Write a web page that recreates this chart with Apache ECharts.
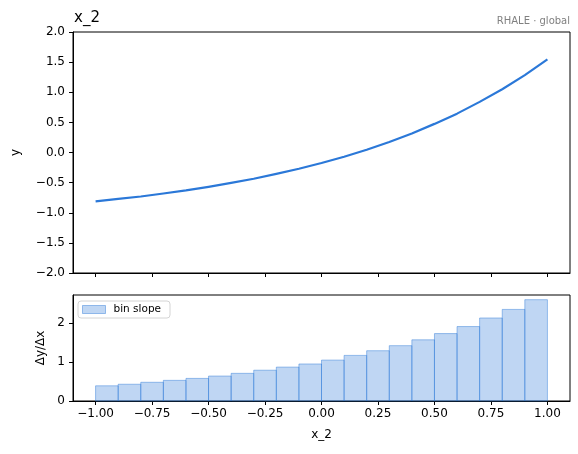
<!DOCTYPE html>
<html>
<head>
<meta charset="utf-8">
<script src="https://cdn.jsdelivr.net/npm/echarts@6/dist/echarts.min.js"></script>
<style>
  html, body { margin: 0; padding: 0; background: #fff; }
  #chart { width: 578px; height: 454px; }
</style>
</head>
<body>
<div id="chart"></div>
<script>
// effect curve (top panel)
const curveX = [-1.0, -0.9, -0.8, -0.7, -0.6, -0.5, -0.4, -0.3, -0.2, -0.1, 0.0,
                0.1, 0.2, 0.3, 0.4, 0.5, 0.6, 0.7, 0.8, 0.9, 1.0];
const curveY = [-0.81, -0.77, -0.73, -0.68, -0.63, -0.57, -0.505, -0.435, -0.355, -0.27, -0.175,
                -0.07, 0.045, 0.175, 0.315, 0.475, 0.645, 0.84, 1.05, 1.285, 1.545];

// bin slopes (bottom panel)
const binLeft = [-1.0, -0.9, -0.8, -0.7, -0.6, -0.5, -0.4, -0.3, -0.2, -0.1,
                 0.0, 0.1, 0.2, 0.3, 0.4, 0.5, 0.6, 0.7, 0.8, 0.9];
const binRight = [-0.9, -0.8, -0.7, -0.6, -0.5, -0.4, -0.3, -0.2, -0.1, 0.0,
                  0.1, 0.2, 0.3, 0.4, 0.5, 0.6, 0.7, 0.8, 0.9, 1.0];
const binSlope = [0.39, 0.43, 0.48, 0.53, 0.58, 0.64, 0.71, 0.79, 0.87, 0.95,
                  1.05, 1.17, 1.29, 1.42, 1.57, 1.73, 1.91, 2.13, 2.35, 2.6];

// tick labels
const xTicks = [-1.0, -0.75, -0.5, -0.25, 0.0, 0.25, 0.5, 0.75, 1.0];
const slopeTicks = [0, 1, 2];

const FONT = 'DejaVu Sans';
const minus = function (v, d) {
    return (v < 0 ? '\u2212' : '') + Math.abs(v).toFixed(d);
};

let chart = echarts.init(document.getElementById('chart'), null, {renderer: 'canvas'});

const lineColor = '#2b78d8';
const barFill = 'rgba(43,120,216,0.3)';
const barEdge = 'rgba(43,120,216,0.45)';
const axisLine = {show: true, onZero: false, lineStyle: {color: '#000', width: 1}};

const option = {
    animation: false,
    textStyle: {fontFamily: FONT},
    title: [
        {
            text: 'x_2', left: 74, top: 11, padding: 0,
            textStyle: {fontFamily: FONT, fontSize: 15, fontWeight: 'normal', color: '#000'}
        },
        {
            text: 'RHALE \u00b7 global', right: 8, top: 16, padding: 0,
            textStyle: {fontFamily: FONT, fontSize: 10, fontWeight: 'normal', color: '#808080'}
        }
    ],
    legend: {
        left: 78, top: 301,
        orient: 'vertical',
        padding: [3, 9, 3, 4],
        itemWidth: 23, itemHeight: 8,
        borderColor: '#d4d4d4', borderWidth: 1, borderRadius: 3,
        textStyle: {fontFamily: FONT, fontSize: 10.5, color: '#000', padding: [0, 0, 0, 3]},
        data: [{
            name: 'bin slope', icon: 'rect',
            itemStyle: {color: barFill, borderColor: barEdge, borderWidth: 1}
        }]
    },
    grid: [
        {left: 73, right: 8, top: 32, height: 241, show: true, borderColor: '#000', borderWidth: 1},
        {left: 73, right: 8, top: 295, height: 106, show: true, borderColor: '#000', borderWidth: 1}
    ],
    xAxis: [
        {
            gridIndex: 0, type: 'value', min: -1.1, max: 1.1,
            axisLine: axisLine,
            axisTick: {show: true, length: 4, lineStyle: {color: '#000'}, customValues: xTicks},
            axisLabel: {show: false},
            splitLine: {show: false}
        },
        {
            gridIndex: 1, type: 'value', min: -1.1, max: 1.1,
            name: 'x_2', nameLocation: 'middle', nameGap: 28,
            nameTextStyle: {fontFamily: FONT, fontSize: 12, color: '#000'},
            axisLine: axisLine,
            axisTick: {show: true, length: 4, lineStyle: {color: '#000'}, customValues: xTicks},
            axisLabel: {
                show: true, margin: 7, fontFamily: FONT, fontSize: 12, color: '#000',
                customValues: xTicks,
                formatter: function (v) { return minus(v, 2); }
            },
            splitLine: {show: false}
        }
    ],
    yAxis: [
        {
            gridIndex: 0, type: 'value', min: -2, max: 2, interval: 0.5,
            name: 'y', nameLocation: 'middle', nameGap: 51,
            nameTextStyle: {fontFamily: FONT, fontSize: 12, color: '#000'},
            axisLine: axisLine,
            axisTick: {show: true, length: 4, lineStyle: {color: '#000'}},
            axisLabel: {
                margin: 8, fontFamily: FONT, fontSize: 12, color: '#000',
                formatter: function (v) { return minus(v, 1); }
            },
            splitLine: {show: false}
        },
        {
            gridIndex: 1, type: 'value', min: 0, max: 2.72,
            name: '\u0394y/\u0394x', nameLocation: 'middle', nameGap: 26,
            nameTextStyle: {fontFamily: FONT, fontSize: 12, color: '#000'},
            axisLine: axisLine,
            axisTick: {show: true, length: 4, lineStyle: {color: '#000'}, customValues: slopeTicks},
            axisLabel: {
                margin: 8, fontFamily: FONT, fontSize: 12, color: '#000',
                customValues: slopeTicks
            },
            splitLine: {show: false}
        }
    ],
    series: [
        {
            name: 'effect', type: 'line',
            xAxisIndex: 0, yAxisIndex: 0,
            data: curveX.map(function (x, i) { return [x, curveY[i]]; }),
            smooth: false, showSymbol: false,
            lineStyle: {color: lineColor, width: 2.2, join: 'round'}
        },
        {
            name: 'bin slope', type: 'custom',
            xAxisIndex: 1, yAxisIndex: 1,
            data: binSlope.map(function (s, i) { return [binLeft[i], binRight[i], s]; }),
            encode: {x: [0, 1], y: 2},
            renderItem: function (params, api) {
                let p0 = api.coord([api.value(0), api.value(2)]);
                let p1 = api.coord([api.value(1), 0]);
                return {
                    type: 'rect',
                    shape: {x: p0[0], y: p0[1], width: p1[0] - p0[0], height: p1[1] - p0[1]},
                    style: {fill: barFill, stroke: barEdge, lineWidth: 1}
                };
            }
        }
    ]
};

chart.setOption(option);
</script>
</body>
</html>
